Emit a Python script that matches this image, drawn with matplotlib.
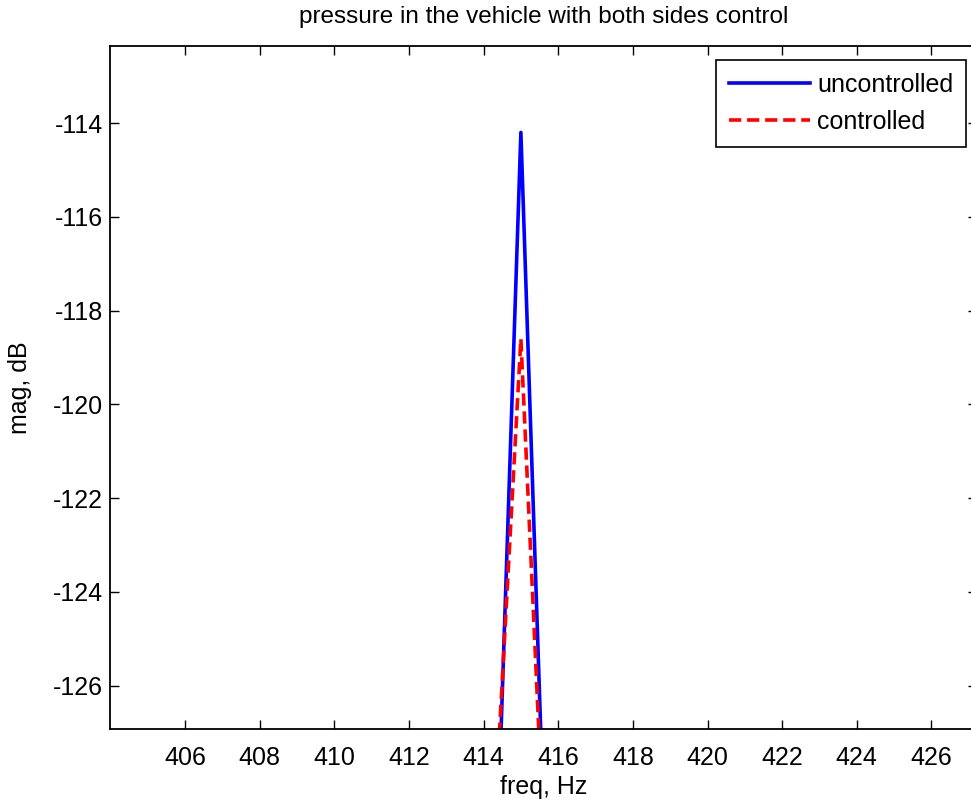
import matplotlib
matplotlib.use("Agg")
import matplotlib.pyplot as plt

plt.rcParams['font.family'] = ['Liberation Sans', 'DejaVu Sans']
plt.rcParams['axes.unicode_minus'] = False

# spectrum around the 415 Hz tone
freq = [414.0, 415.0, 416.0]
mag_uncontrolled = [-138.2, -114.2, -138.2]
mag_controlled = [-133.2, -118.6, -136.0]

xticks = [406, 408, 410, 412, 414, 416, 418, 420, 422, 424, 426]
yticks = [-126, -124, -122, -120, -118, -116, -114]

W, H = 971, 806
fig = plt.figure(figsize=(W / 100, H / 100), dpi=100)
ax = fig.add_axes([110.3 / W, 76.7 / H, (977 - 110.3) / W, (760.3 - 76.7) / H])

ax.plot(freq, mag_uncontrolled, color='#0000ff', lw=2.6, label='uncontrolled')
ax.plot(freq, mag_controlled, color='#ff0000', lw=2.6, ls=(0, (3.4, 1.6)), label='controlled')

ax.set_xlim(404.0, 427.22)
ax.set_ylim(-126.93, -112.35)
ax.set_xticks(xticks)
ax.set_yticks(yticks)
ax.tick_params(direction='in', top=True, right=True, length=6.5, width=1.0,
               labelsize=18, colors='black')
ax.tick_params(axis='x', pad=12)
ax.tick_params(axis='y', pad=5)
for s in ax.spines.values():
    s.set_linewidth(1.3)
    s.set_color('black')

ax.set_title('pressure in the vehicle with both sides control', fontsize=17.5, pad=16.5)
ax.set_xlabel('freq, Hz', fontsize=18, labelpad=3.5)
ax.set_ylabel('mag, dB', fontsize=18, labelpad=15)

leg = ax.legend(loc='upper right', bbox_to_anchor=(966 / W, 1 - 60 / H),
                bbox_transform=fig.transFigure, borderaxespad=0, fontsize=18,
                handlelength=3.25, handletextpad=0.3, labelspacing=0.54,
                borderpad=0.5, fancybox=False, framealpha=1)
leg.get_frame().set_edgecolor('black')
leg.get_frame().set_linewidth(1.2)

fig.savefig('out.png', dpi=100)
